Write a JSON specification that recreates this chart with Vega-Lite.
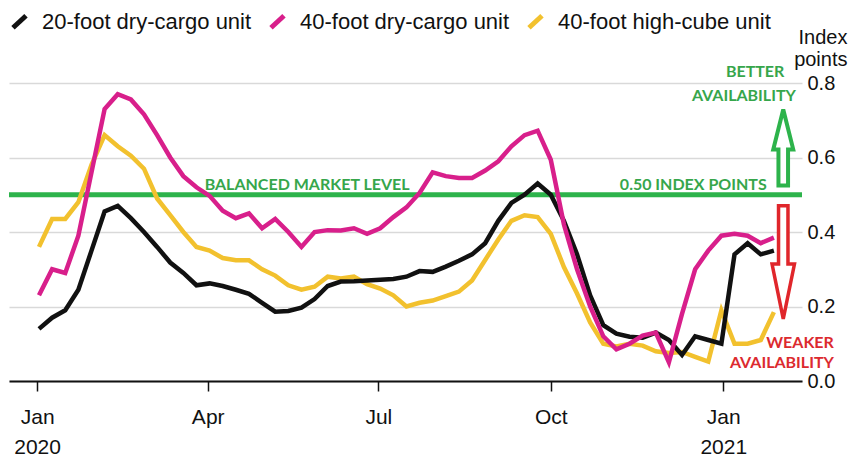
{
  "$schema": "https://vega.github.io/schema/vega-lite/v6.json",
  "autosize": {"type": "none"},
  "width": 793,
  "height": 298,
  "padding": {"left": 9, "top": 83, "right": 50, "bottom": 78},
  "background": "#ffffff",
  "config": {"view": {"stroke": null}, "font": "Liberation Sans"},
  "datasets": {
    "weekly": [
      {"date": "2020-01-02", "dry20": 0.14, "dry40": 0.23, "cube40": 0.36},
      {"date": "2020-01-09", "dry20": 0.17, "dry40": 0.30, "cube40": 0.435},
      {"date": "2020-01-16", "dry20": 0.19, "dry40": 0.29, "cube40": 0.435},
      {"date": "2020-01-23", "dry20": 0.245, "dry40": 0.39, "cube40": 0.48},
      {"date": "2020-01-30", "dry20": 0.35, "dry40": 0.56, "cube40": 0.58},
      {"date": "2020-02-06", "dry20": 0.455, "dry40": 0.73, "cube40": 0.66},
      {"date": "2020-02-13", "dry20": 0.47, "dry40": 0.77, "cube40": 0.63},
      {"date": "2020-02-20", "dry20": 0.437, "dry40": 0.756, "cube40": 0.605},
      {"date": "2020-02-27", "dry20": 0.40, "dry40": 0.716, "cube40": 0.57},
      {"date": "2020-03-05", "dry20": 0.36, "dry40": 0.66, "cube40": 0.49},
      {"date": "2020-03-12", "dry20": 0.318, "dry40": 0.60, "cube40": 0.445},
      {"date": "2020-03-19", "dry20": 0.29, "dry40": 0.55, "cube40": 0.40},
      {"date": "2020-03-26", "dry20": 0.257, "dry40": 0.52, "cube40": 0.36},
      {"date": "2020-04-02", "dry20": 0.262, "dry40": 0.497, "cube40": 0.35},
      {"date": "2020-04-09", "dry20": 0.255, "dry40": 0.457, "cube40": 0.33},
      {"date": "2020-04-16", "dry20": 0.245, "dry40": 0.437, "cube40": 0.324},
      {"date": "2020-04-23", "dry20": 0.234, "dry40": 0.45, "cube40": 0.324},
      {"date": "2020-04-30", "dry20": 0.21, "dry40": 0.41, "cube40": 0.30},
      {"date": "2020-05-07", "dry20": 0.186, "dry40": 0.435, "cube40": 0.283},
      {"date": "2020-05-14", "dry20": 0.188, "dry40": 0.40, "cube40": 0.257},
      {"date": "2020-05-21", "dry20": 0.197, "dry40": 0.36, "cube40": 0.245},
      {"date": "2020-05-28", "dry20": 0.22, "dry40": 0.40, "cube40": 0.253},
      {"date": "2020-06-04", "dry20": 0.255, "dry40": 0.405, "cube40": 0.28},
      {"date": "2020-06-11", "dry20": 0.267, "dry40": 0.404, "cube40": 0.275},
      {"date": "2020-06-18", "dry20": 0.268, "dry40": 0.41, "cube40": 0.28},
      {"date": "2020-06-25", "dry20": 0.27, "dry40": 0.395, "cube40": 0.26},
      {"date": "2020-07-02", "dry20": 0.272, "dry40": 0.41, "cube40": 0.248},
      {"date": "2020-07-09", "dry20": 0.274, "dry40": 0.44, "cube40": 0.23},
      {"date": "2020-07-16", "dry20": 0.28, "dry40": 0.466, "cube40": 0.20},
      {"date": "2020-07-23", "dry20": 0.295, "dry40": 0.505, "cube40": 0.21},
      {"date": "2020-07-30", "dry20": 0.293, "dry40": 0.56, "cube40": 0.216},
      {"date": "2020-08-06", "dry20": 0.307, "dry40": 0.55, "cube40": 0.228},
      {"date": "2020-08-13", "dry20": 0.323, "dry40": 0.545, "cube40": 0.24},
      {"date": "2020-08-20", "dry20": 0.34, "dry40": 0.545, "cube40": 0.27},
      {"date": "2020-08-27", "dry20": 0.37, "dry40": 0.565, "cube40": 0.325},
      {"date": "2020-09-03", "dry20": 0.43, "dry40": 0.59, "cube40": 0.38},
      {"date": "2020-09-10", "dry20": 0.478, "dry40": 0.63, "cube40": 0.43},
      {"date": "2020-09-17", "dry20": 0.50, "dry40": 0.66, "cube40": 0.445},
      {"date": "2020-09-24", "dry20": 0.53, "dry40": 0.672, "cube40": 0.44},
      {"date": "2020-10-01", "dry20": 0.50, "dry40": 0.594, "cube40": 0.395},
      {"date": "2020-10-08", "dry20": 0.43, "dry40": 0.42, "cube40": 0.306},
      {"date": "2020-10-15", "dry20": 0.34, "dry40": 0.30, "cube40": 0.235},
      {"date": "2020-10-22", "dry20": 0.23, "dry40": 0.20, "cube40": 0.157},
      {"date": "2020-10-29", "dry20": 0.15, "dry40": 0.12, "cube40": 0.10},
      {"date": "2020-11-05", "dry20": 0.127, "dry40": 0.085, "cube40": 0.093},
      {"date": "2020-11-12", "dry20": 0.119, "dry40": 0.10, "cube40": 0.10},
      {"date": "2020-11-19", "dry20": 0.116, "dry40": 0.122, "cube40": 0.095},
      {"date": "2020-11-26", "dry20": 0.13, "dry40": 0.13, "cube40": 0.08},
      {"date": "2020-12-03", "dry20": 0.11, "dry40": 0.05, "cube40": 0.075},
      {"date": "2020-12-10", "dry20": 0.07, "dry40": 0.18, "cube40": 0.078},
      {"date": "2020-12-17", "dry20": 0.12, "dry40": 0.30, "cube40": 0.065},
      {"date": "2020-12-24", "dry20": 0.11, "dry40": 0.35, "cube40": 0.052},
      {"date": "2020-12-31", "dry20": 0.10, "dry40": 0.39, "cube40": 0.19},
      {"date": "2021-01-07", "dry20": 0.34, "dry40": 0.395, "cube40": 0.10},
      {"date": "2021-01-14", "dry20": 0.37, "dry40": 0.39, "cube40": 0.10},
      {"date": "2021-01-21", "dry20": 0.34, "dry40": 0.37, "cube40": 0.11},
      {"date": "2021-01-28", "dry20": 0.35, "dry40": 0.385, "cube40": 0.185}
    ],
    "level": [{"value": 0.5}],
    "notes": [
      {"note": "BALANCED MARKET LEVEL", "date": "2020-05-24", "value": 0.513, "tone": "better"},
      {"note": "0.50 INDEX POINTS", "date": "2020-12-16", "value": 0.513, "tone": "better"},
      {"note": "BETTER", "date": "2021-01-18", "value": 0.817, "tone": "better"},
      {"note": "AVAILABILITY", "date": "2021-01-12", "value": 0.7525, "tone": "better"},
      {"note": "WEAKER", "date": "2021-03-01", "value": 0.088, "tone": "weaker"},
      {"note": "AVAILABILITY", "date": "2021-03-01", "value": 0.035, "tone": "weaker"}
    ],
    "arrows": [
      {"direction": "up", "date": "2021-02-02", "value": 0.627},
      {"direction": "down", "date": "2021-02-02", "value": 0.317}
    ]
  },
  "layer": [
    {
      "data": {"name": "level"},
      "mark": {"type": "rule", "color": "#2db34b", "strokeWidth": 5},
      "encoding": {
        "y": {
          "field": "value",
          "type": "quantitative",
          "scale": {"domain": [0, 0.8], "nice": false, "zero": true},
          "axis": {
            "orient": "right",
            "values": [0, 0.2, 0.4, 0.6, 0.8],
            "format": ".1f",
            "grid": true,
            "gridColor": "#d9d9d9",
            "gridWidth": 1.5,
            "domain": false,
            "ticks": false,
            "tickSize": 0,
            "labelPadding": 5,
            "labelFontSize": 20,
            "labelColor": "#111111",
            "title": ["Index", "points"],
            "titleAngle": 0,
            "titleAlign": "right",
            "titleBaseline": "top",
            "titleX": 45,
            "titleY": -56,
            "titleFontSize": 20,
            "titleFontWeight": "normal",
            "titleColor": "#111111",
            "titleLineHeight": 22
          }
        }
      }
    },
    {
      "data": {"name": "weekly"},
      "transform": [{"fold": ["cube40"], "as": ["series", "value"]}],
      "mark": {"type": "line", "strokeWidth": 4.5},
      "encoding": {
        "x": {
          "field": "date",
          "type": "temporal",
          "scale": {"type": "utc", "domain": [{"year": 2019, "month": 12, "date": 17, "utc": true}, {"year": 2021, "month": 2, "date": 12, "utc": true}]},
          "axis": {
            "values": [
              {"year": 2020, "month": 1, "date": 1, "utc": true},
              {"year": 2020, "month": 4, "date": 1, "utc": true},
              {"year": 2020, "month": 7, "date": 1, "utc": true},
              {"year": 2020, "month": 10, "date": 1, "utc": true},
              {"year": 2021, "month": 1, "date": 1, "utc": true}
            ],
            "labelExpr": "utcmonth(datum.value) == 0 ? [utcFormat(datum.value, '%b'), utcFormat(datum.value, '%Y')] : utcFormat(datum.value, '%b')",
            "title": null,
            "grid": false,
            "domainColor": "#111111",
            "domainWidth": 2,
            "tickColor": "#111111",
            "tickWidth": 1.5,
            "tickSize": 10,
            "labelFontSize": 21,
            "labelColor": "#111111",
            "labelPadding": 15,
            "labelBaseline": "top",
            "labelLineHeight": 30,
            "labelFlush": false,
            "labelOverlap": false
          }
        },
        "y": {"field": "value", "type": "quantitative", "scale": {"domain": [0, 0.8], "nice": false, "zero": true}},
        "color": {
          "field": "series",
          "type": "nominal",
          "scale": {"domain": ["dry20", "dry40", "cube40"], "range": ["#111111", "#d81f8b", "#f2c12e"]},
          "legend": {
            "orient": "none",
            "direction": "horizontal",
            "legendX": -2,
            "legendY": -74,
            "padding": 0,
            "title": null,
            "symbolType": "M-0.65,0.6L0.65,-0.6",
            "symbolSize": 400,
            "symbolStrokeWidth": 5,
            "labelFontSize": 22,
            "labelColor": "#111111",
            "labelOffset": 10,
            "labelLimit": 400,
            "columnPadding": 9,
            "labelExpr": "datum.label == 'dry20' ? '20-foot dry-cargo unit' : datum.label == 'dry40' ? '40-foot dry-cargo unit' : '40-foot high-cube unit'"
          }
        }
      }
    },
    {
      "data": {"name": "weekly"},
      "transform": [{"fold": ["dry20"], "as": ["series", "value"]}],
      "mark": {"type": "line", "strokeWidth": 4.5},
      "encoding": {
        "x": {"field": "date", "type": "temporal", "scale": {"type": "utc", "domain": [{"year": 2019, "month": 12, "date": 17, "utc": true}, {"year": 2021, "month": 2, "date": 12, "utc": true}]}},
        "y": {"field": "value", "type": "quantitative", "scale": {"domain": [0, 0.8], "nice": false, "zero": true}},
        "color": {"field": "series", "type": "nominal", "scale": {"domain": ["dry20", "dry40", "cube40"], "range": ["#111111", "#d81f8b", "#f2c12e"]}}
      }
    },
    {
      "data": {"name": "weekly"},
      "transform": [{"fold": ["dry40"], "as": ["series", "value"]}],
      "mark": {"type": "line", "strokeWidth": 4.5},
      "encoding": {
        "x": {"field": "date", "type": "temporal", "scale": {"type": "utc", "domain": [{"year": 2019, "month": 12, "date": 17, "utc": true}, {"year": 2021, "month": 2, "date": 12, "utc": true}]}},
        "y": {"field": "value", "type": "quantitative", "scale": {"domain": [0, 0.8], "nice": false, "zero": true}},
        "color": {"field": "series", "type": "nominal", "scale": {"domain": ["dry20", "dry40", "cube40"], "range": ["#111111", "#d81f8b", "#f2c12e"]}}
      }
    },
    {
      "data": {"name": "notes"},
      "transform": [{"filter": "datum.tone == 'better'"}],
      "mark": {"type": "text", "font": "Lato", "fontWeight": "bold", "fontSize": 16, "color": "#36a64b", "align": "center", "baseline": "alphabetic"},
      "encoding": {
        "x": {"field": "date", "type": "temporal", "scale": {"type": "utc", "domain": [{"year": 2019, "month": 12, "date": 17, "utc": true}, {"year": 2021, "month": 2, "date": 12, "utc": true}]}},
        "y": {"field": "value", "type": "quantitative", "scale": {"domain": [0, 0.8], "nice": false, "zero": true}},
        "text": {"field": "note"}
      }
    },
    {
      "data": {"name": "notes"},
      "transform": [{"filter": "datum.tone == 'weaker'"}],
      "mark": {"type": "text", "font": "Lato", "fontWeight": "bold", "fontSize": 16, "color": "#dc2a2f", "align": "right", "baseline": "alphabetic"},
      "encoding": {
        "x": {"field": "date", "type": "temporal", "scale": {"type": "utc", "domain": [{"year": 2019, "month": 12, "date": 17, "utc": true}, {"year": 2021, "month": 2, "date": 12, "utc": true}]}},
        "y": {"field": "value", "type": "quantitative", "scale": {"domain": [0, 0.8], "nice": false, "zero": true}},
        "text": {"field": "note"}
      }
    },
    {
      "data": {"name": "arrows"},
      "transform": [{"filter": "datum.direction == 'up'"}],
      "mark": {"type": "point", "shape": "M0,-0.95L0.25,0.05L0.12,0.05L0.12,0.95L-0.12,0.95L-0.12,0.05L-0.25,0.05Z", "size": 6400, "filled": true, "fill": "#ffffff", "stroke": "#2db34b", "strokeWidth": 4, "opacity": 1},
      "encoding": {
        "x": {"field": "date", "type": "temporal", "scale": {"type": "utc", "domain": [{"year": 2019, "month": 12, "date": 17, "utc": true}, {"year": 2021, "month": 2, "date": 12, "utc": true}]}},
        "y": {"field": "value", "type": "quantitative", "scale": {"domain": [0, 0.8], "nice": false, "zero": true}}
      }
    },
    {
      "data": {"name": "arrows"},
      "transform": [{"filter": "datum.direction == 'down'"}],
      "mark": {"type": "point", "shape": "M-0.08,-0.97L0.08,-0.97L0.08,0.02L0.19,0.02L0,0.95L-0.19,0.02L-0.08,0.02Z", "size": 13924, "filled": true, "fill": "#ffffff", "stroke": "#e0262b", "strokeWidth": 3.5, "opacity": 1},
      "encoding": {
        "x": {"field": "date", "type": "temporal", "scale": {"type": "utc", "domain": [{"year": 2019, "month": 12, "date": 17, "utc": true}, {"year": 2021, "month": 2, "date": 12, "utc": true}]}},
        "y": {"field": "value", "type": "quantitative", "scale": {"domain": [0, 0.8], "nice": false, "zero": true}}
      }
    }
  ]
}
